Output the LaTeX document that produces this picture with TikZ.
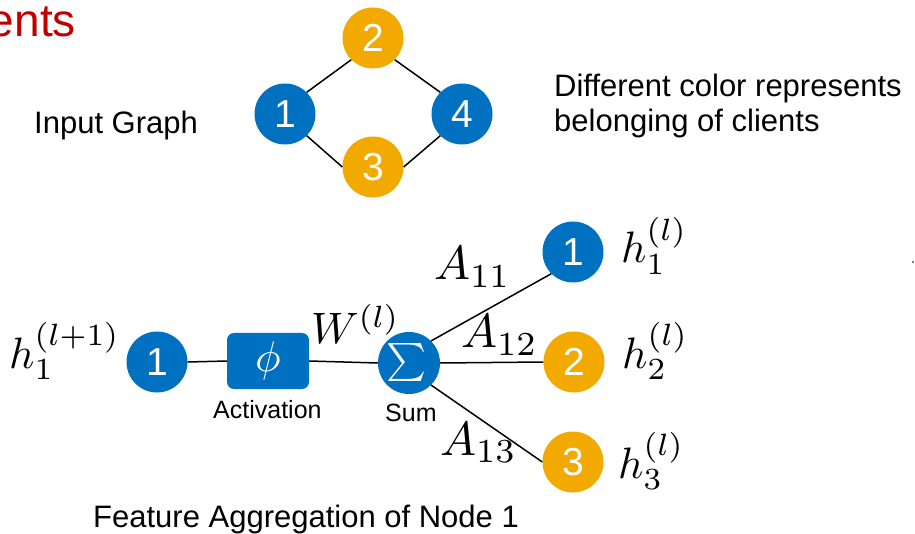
\documentclass[tikz,border=0pt]{standalone}
\usepackage{graphicx}
\usepackage{fontspec}
\setmainfont{Liberation Sans}
\definecolor{cblue}{HTML}{0070C0}
\definecolor{corange}{HTML}{F2A900}
\definecolor{cred}{HTML}{C00000}
\newcommand{\scaledmath}[2]{\scalebox{#1}{$#2$}}
\tikzset{
  gnode/.style={circle, minimum size=61pt, inner sep=0pt, text=white,
    font=\fontsize{39}{40}\selectfont},
  bluenode/.style={gnode, fill=cblue},
  orangenode/.style={gnode, fill=corange},
  edge/.style={line width=1.5pt, black},
  lbl/.style={anchor=base west, inner sep=0pt, font=\fontsize{31}{35}\selectfont},
  smalllbl/.style={anchor=base west, inner sep=0pt, font=\fontsize{25}{28}\selectfont},
  mathlbl/.style={anchor=base west, inner sep=0pt, font=\normalsize},
}
\begin{document}
\begin{tikzpicture}[x=1pt,y=-1pt]
\useasboundingbox (0,0) rectangle (915,534);
% title fragment
\node[anchor=base east, inner sep=0pt, text=cred, font=\fontsize{46}{48}\selectfont] (title) at (76,37) {ents};
% input graph
\node[lbl] (inlbl) at (34,134) {Input Graph};
\node[bluenode] (g1) at (285,114) {1};
\node[orangenode] (g2) at (373,38) {2};
\node[orangenode] (g3) at (373,167) {3};
\node[bluenode] (g4) at (462,114) {4};
\draw[edge] (g1.north east) -- (g2.south west);
\draw[edge] (g2.south east) -- (g4.north west);
\draw[edge] (g1.south east) -- (g3.west);
\draw[edge] (g3.east) -- (g4.south west);
\node[lbl] (desc1) at (554,97) {Different color represents};
\node[lbl] (desc2) at (554,132) {belonging of clients};
% aggregation
\node[bluenode] (b1) at (157,362) {1};
\node[rectangle, rounded corners=7pt, fill=cblue, minimum width=82pt, minimum height=56pt,
  inner sep=0pt, text=white, font=\normalsize] (phi) at (268,361)
  {\raisebox{-7pt}{\scaledmath{4.3}{\phi}}};
\node[circle, fill=cblue, minimum size=62pt, inner sep=0pt, text=white,
  font=\normalsize] (sig) at (409,363)
  {\hspace*{-4pt}\raisebox{-5pt}{\scaledmath{3.8}{\textstyle\sum}}};
\node[bluenode] (r1) at (573,252) {1};
\node[orangenode] (r2) at (574,362) {2};
\node[orangenode] (r3) at (573,462) {3};
\draw[edge] (b1.east) -- (phi.west);
\draw[edge] (phi.east) -- (sig.west);
\draw[edge] (sig.north east) -- (r1.south west);
\draw[edge] (sig.east) -- (r2.west);
\draw[edge] (sig.south east) -- (r3.west);
\node[smalllbl] (act) at (213,418) {Activation};
\node[smalllbl] (sum) at (385,421) {Sum};
\node[mathlbl] (hout) at (9,368) {\scaledmath{4.4}{h_1^{(l+1)}}};
\node[mathlbl] (w) at (311,343) {\scaledmath{4.4}{W^{(l)}}};
\node[mathlbl] (a11) at (434,280) {\scaledmath{4.8}{A_{11}}};
\node[mathlbl] (a12) at (461,348) {\scaledmath{4.8}{A_{12}}};
\node[mathlbl] (a13) at (440,455) {\scaledmath{4.8}{A_{13}}};
\node[mathlbl] (h1) at (621,263) {\scaledmath{4.4}{h_1^{(l)}}};
\node[mathlbl] (h2) at (622,368) {\scaledmath{4.4}{h_2^{(l)}}};
\node[mathlbl] (h3) at (618,478) {\scaledmath{4.4}{h_3^{(l)}}};
\node[lbl] (feat) at (93,527) {Feature Aggregation of Node 1};
\fill (913,262) circle (0.8pt);
\end{tikzpicture}
\end{document}
